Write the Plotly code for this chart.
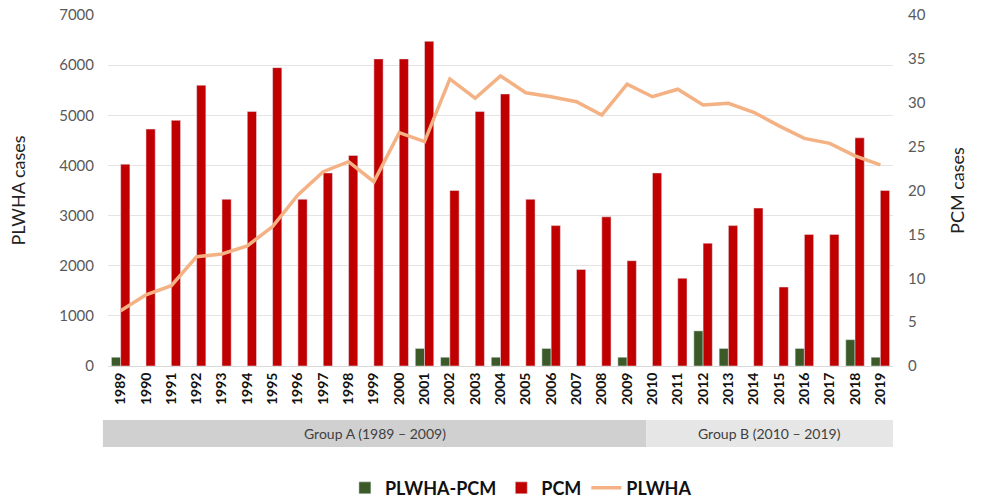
import plotly.graph_objects as go

years = [str(y) for y in range(1989, 2020)]
pcm = [23, 27, 28, 32, 19, 29, 34, 19, 22, 24, 35, 35, 37, 20, 29, 31, 19, 16, 11, 17, 12,
       22, 10, 14, 16, 18, 9, 15, 15, 26, 20]
plwha_pcm = [1, None, None, None, None, None, None, None, None, None, None, None, 2, 1, None, 1, None, 2, None, None, 1,
             None, None, 4, 2, None, None, 2, None, 3, 1]
plwha = [1100, 1420, 1600, 2180, 2235, 2395, 2780, 3410, 3875, 4075, 3675, 4655, 4475, 5725, 5340,
         5785, 5450, 5370, 5270, 5005, 5620, 5370, 5520, 5205, 5240, 5060, 4790, 4540, 4440, 4190, 4010]

# group bands given in category-index units
groups = [("Group A (1989 – 2009)", -0.7, 20.76, "#d0d0d0"),
          ("Group B (2010 – 2019)", 20.76, 30.5, "#e6e6e6")]

FONT = "Lato"
n = len(years)

fig = go.Figure()
fig.add_trace(go.Bar(x=years, y=plwha_pcm, name="PLWHA-PCM", marker_color="#3b5a27",
                     yaxis="y"))
fig.add_trace(go.Bar(x=years, y=pcm, name="PCM", marker_color="#c00000", yaxis="y"))
fig.add_trace(go.Scatter(x=years, y=plwha, name="PLWHA", mode="lines",
                         line=dict(color="#f4b183", width=3.5), yaxis="y2"))

def to_paper(i):
    return (i + 0.5) / n

shapes = []
annotations = []
for label, x0, x1, col in groups:
    shapes.append(dict(type="rect", xref="paper", yref="paper", x0=to_paper(x0), x1=to_paper(x1),
                       y0=-0.231, y1=-0.154, fillcolor=col, line=dict(width=0), layer="below"))
    annotations.append(dict(text=label, xref="paper", yref="paper", x=to_paper((x0 + x1) / 2),
                            y=-0.1925, showarrow=False,
                            font=dict(family=FONT, size=14, color="#404040"),
                            xanchor="center", yanchor="middle"))

fig.update_layout(
    width=981, height=499,
    margin=dict(l=108, r=88, t=15, b=133, autoexpand=False),
    paper_bgcolor="white", plot_bgcolor="white",
    barmode="group", bargap=0.27, bargroupgap=0,
    font=dict(family=FONT, color="#595959"),
    xaxis=dict(type="category", tickangle=-90, showgrid=False, automargin=False,
               tickfont=dict(family=FONT, size=14, color="#111111", weight="bold"),
               showline=True, linecolor="#d9d9d9", ticks="", range=[-0.5, 30.5]),
    yaxis=dict(side="right", range=[0, 40], dtick=5, showgrid=False, zeroline=False,
               automargin=False, ticklabelstandoff=14,
               tickfont=dict(family=FONT, size=15, color="#595959"),
               title=dict(text="PCM cases", font=dict(family=FONT, size=18, color="#222222"),
                          standoff=26)),
    yaxis2=dict(side="left", overlaying="y", range=[0, 7000], dtick=1000, showgrid=True,
                gridcolor="#e4e4e4", zeroline=False, automargin=False, ticklabelstandoff=13,
                tickfont=dict(family=FONT, size=15, color="#595959"),
                title=dict(text="PLWHA cases", font=dict(family=FONT, size=18, color="#222222"),
                           standoff=28)),
    legend=dict(orientation="h", xanchor="center", x=0.526, yanchor="middle", y=-0.348,
                font=dict(family=FONT, size=18, color="#111111", weight="bold"),
                traceorder="normal", itemwidth=30),
    shapes=shapes, annotations=annotations,
)

fig.write_html("out.html", config={"displayModeBar": False},
               post_script="document.body.style.margin='0';document.body.style.overflow='hidden';")
